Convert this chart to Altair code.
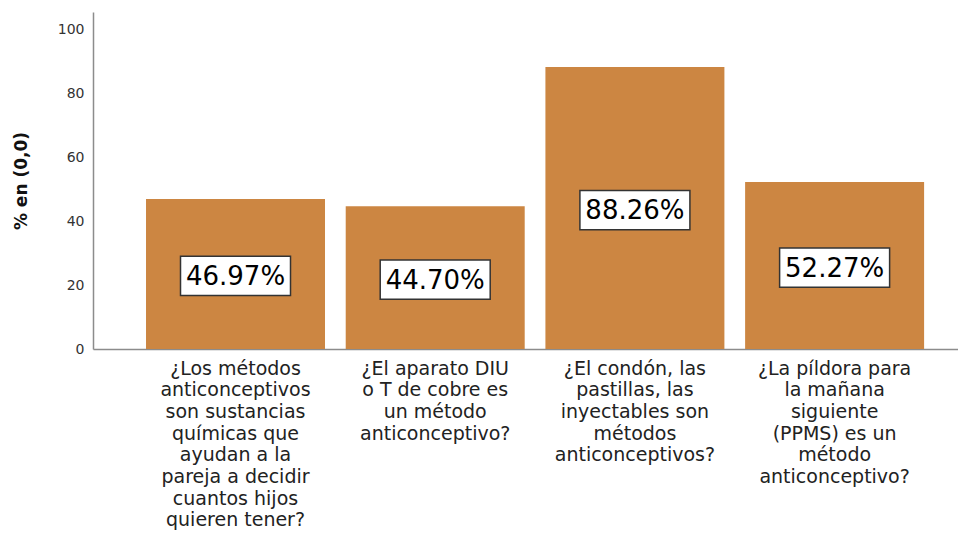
import altair as alt
import pandas as pd

categories = [
    "¿Los métodos|anticonceptivos|son sustancias|químicas que|ayudan a la|pareja a decidir|cuantos hijos|quieren tener?",
    "¿El aparato DIU|o T de cobre es|un método|anticonceptivo?",
    "¿El condón, las|pastillas, las|inyectables son|métodos|anticonceptivos?",
    "¿La píldora para|la mañana|siguiente|(PPMS) es un|método|anticonceptivo?",
]
values = [46.97, 44.70, 88.26, 52.27]
value_labels = ["46.97%", "44.70%", "88.26%", "52.27%"]
y_ticks = [0, 20, 40, 60, 80, 100]

df = pd.DataFrame({"cat": categories, "value": values, "label": value_labels})

xscale = alt.Scale(paddingInner=0.1037, paddingOuter=0.2176, align=0.61)
yscale = alt.Scale(domain=[0, 105.5], nice=False, zero=True)

x_enc = alt.X(
    "cat:N",
    sort=None,
    scale=xscale,
    axis=alt.Axis(
        title=None,
        labelAngle=0,
        labelExpr="split(datum.label, '|')",
        labelFont="DejaVu Sans",
        labelFontSize=19,
        labelLineHeight=21.7,
        labelColor="#222222",
        labelPadding=10,
        labelBaseline="top",
        labelLimit=400,
        ticks=False,
        domainColor="#8c8c8c",
        domainWidth=1.5,
        grid=False,
    ),
)

base = alt.Chart(df)

bars = base.mark_bar(color="#CC8642").encode(
    x=x_enc,
    y=alt.Y(
        "value:Q",
        scale=yscale,
        axis=alt.Axis(
            values=y_ticks,
            ticks=False,
            grid=False,
            domainColor="#8c8c8c",
            domainWidth=1.5,
            labelColor="#333333",
            labelFont="DejaVu Sans",
            labelFontSize=14,
            labelPadding=9,
            title="% en (0,0)",
            titleFont="DejaVu Sans",
            titleFontWeight="bold",
            titleFontSize=17,
            titleColor="#111111",
            titleX=-72,
            titleY=168.5,
            titleAngle=270,
            titleAlign="center",
            titleBaseline="middle",
        ),
    ),
)

boxes = base.transform_calculate(mid="datum.value / 2").mark_point(
    shape="M-1,-0.357L1,-0.357L1,0.357L-1,0.357Z",
    size=12100,
    filled=False,
    fill="white",
    fillOpacity=1,
    stroke="#333333",
    strokeWidth=1.5,
    opacity=1,
    yOffset=2,
).encode(x=alt.X("cat:N", sort=None, scale=xscale), y=alt.Y("mid:Q", scale=yscale))

texts = base.transform_calculate(mid="datum.value / 2").mark_text(
    font="DejaVu Sans",
    fontSize=26,
    color="black",
    baseline="middle",
    align="center",
    yOffset=3,
).encode(x=alt.X("cat:N", sort=None, scale=xscale), y=alt.Y("mid:Q", scale=yscale), text="label:N")

chart = (
    alt.layer(bars, boxes, texts)
    .properties(
        width=865,
        height=337,
        autosize="none",
        padding={"left": 85, "top": 4, "right": 0, "bottom": 181},
        background="white",
    )
    .configure_view(stroke=None)
)

chart.save("out.html", embed_options={"renderer": "svg", "actions": False})
